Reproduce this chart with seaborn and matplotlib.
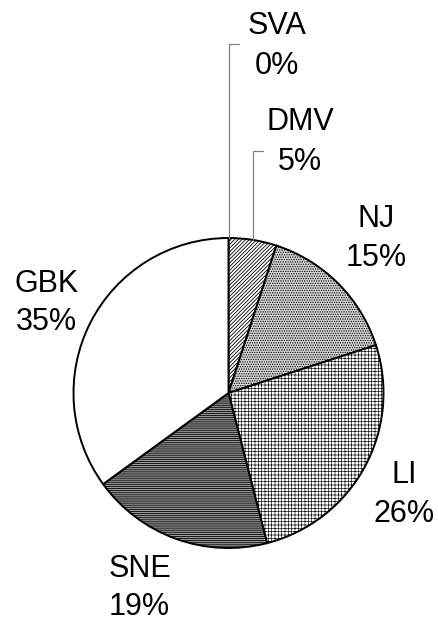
import matplotlib
matplotlib.use("Agg")
import matplotlib.pyplot as plt
import seaborn as sns
import numpy as np

# Share of catch by region (percent), clockwise from 12 o'clock
regions = ["SVA", "DMV", "NJ", "LI", "SNE", "GBK"]
shares = [0, 5, 15, 26, 19, 35]

# Fill pattern per wedge
hatches = ["", "/////////", ".......", "+++++", "--------", ""]
faces = ["white", "white", "#d4d4d4", "white", "#9a9a9a", "white"]

# Label anchors (data units, pie radius = 1): x centre, name baseline, pct baseline
label_x = [0.313, 0.461, 0.952, 1.132, -0.574, -1.174]
name_y = [2.316, 1.697, 1.071, -0.581, -1.185, 0.652]
pct_y = [2.058, 1.439, 0.819, -0.832, -1.432, 0.406]

# Elbow heights for the leader lines of the thin wedges
leader_y = {"SVA": 2.252, "DMV": 1.561}

sns.set_theme(style="white")
plt.rcParams["font.family"] = ["Liberation Sans", "DejaVu Sans"]
plt.rcParams["hatch.linewidth"] = 0.6
plt.rcParams["hatch.color"] = "black"

fig = plt.figure(figsize=(4.38, 6.22), dpi=100)
ax = fig.add_axes([0, 0, 1, 1])

wedges, _ = ax.pie(
    shares,
    startangle=90,
    counterclock=False,
    radius=1.0,
    center=(0, 0),
    colors=faces,
    wedgeprops=dict(edgecolor="black", linewidth=1.4),
)
for w, h in zip(wedges, hatches):
    if h:
        w.set_hatch(h)
# Lighter grid lines on the cross-hatched wedge
if hasattr(wedges[3], "set_hatch_linewidth"):
    wedges[3].set_hatch_linewidth(0.45)

# Region labels
for name, v, x, yn, yp in zip(regions, shares, label_x, name_y, pct_y):
    ax.text(x, yn, name, ha="center", va="baseline", fontsize=22, color="black")
    ax.text(x, yp, f"{v}%", ha="center", va="baseline", fontsize=22, color="black")

# Leader lines for the narrow wedges
cum = 0.0
for name, v in zip(regions, shares):
    if name in leader_y:
        theta = np.deg2rad(90 - 360 * (cum + v / 2) / 100)
        x0, y0 = np.cos(theta), np.sin(theta)
        ey = leader_y[name]
        ax.plot([x0, x0, x0 + 0.065], [y0, ey, ey], color="#808080", lw=0.9,
                solid_joinstyle="miter")
    cum += v

ax.set_aspect("auto")
ax.set_xlim(-228.5 / 155, (438 - 228.5) / 155)
ax.set_ylim((393 - 622) / 155, 393 / 155)
ax.axis("off")

fig.savefig("out.png", dpi=100, facecolor="white")
